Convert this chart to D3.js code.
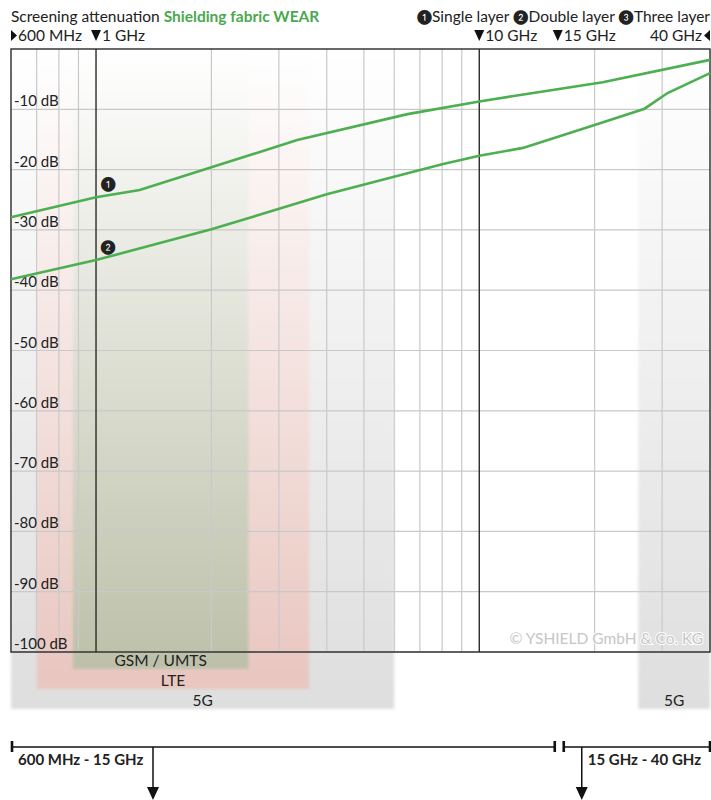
<!DOCTYPE html>
<html>
<head>
<meta charset="utf-8">
<script src="https://cdn.jsdelivr.net/npm/d3@7"></script>
<style>
body { margin: 0; background: #fff; }
text { font-family: Lato, "Open Sans", sans-serif; fill: #222; }
</style>
</head>
<body>
<div id="chart"></div>
<script>
// frequencies in GHz, attenuation in dB
var singleFreq = [0.6, 1, 1.3, 3.35, 6.5, 10, 12.3, 21, 40];
var singleDb   = [-27.9, -24.6, -23.4, -15.1, -10.8, -8.7, -7.8, -5.5, -1.8];
var doubleFreq = [0.6, 1, 2, 4, 8, 10, 13, 20, 27, 31, 40];
var doubleDb   = [-38.2, -35.0, -29.9, -24.1, -19.1, -17.7, -16.4, -12.6, -9.9, -7.3, -4.0];

var bandNames = ["5G", "LTE", "GSM / UMTS", "5G"];
var bandFrom  = [0.6, 0.7, 0.87, 26];
var bandTo    = [6, 3.6, 2.5, 40];
var bandLevel = [0, 1, 2, 0];
var bandColors = ["#dedede", "#e8c4bd", "#b8bca3"];

var dbTicks = [-10, -20, -30, -40, -50, -60, -70, -80, -90, -100];
var gridFreqs = [0.7, 0.8, 0.9, 2, 3, 4, 5, 6, 7, 8, 9, 20, 30];
var markFreqs = [1, 10];
var markerLabels = ["600 MHz", "1 GHz", "10 GHz", "15 GHz", "40 GHz"];
var markerFreqs  = [0.6, 1, 10, 15, 40];
var legendLabels = ["Single layer", "Double layer", "Three layer"];
var legendNums = ["❶", "❷", "❸"];
var rangeLabels = ["600 MHz - 15 GHz", "15 GHz - 40 GHz"];

var W = 711, H = 800;
var pLeft = 11, pRight = 710, pTop = 49, pBottom = 652;

var svg = d3.select("#chart").append("svg")
    .attr("width", W)
    .attr("height", H);

var x = d3.scaleLog().domain([0.6, 40]).range([pLeft, pRight]);
var y = d3.scaleLinear().domain([0, -100]).range([pTop, pBottom]);

var defs = svg.append("defs");
var grad = defs.append("linearGradient")
    .attr("id", "fade")
    .attr("gradientUnits", "userSpaceOnUse")
    .attr("x1", 0).attr("y1", pTop)
    .attr("x2", 0).attr("y2", 709);
grad.append("stop").attr("offset", 0).attr("stop-color", "#000");
grad.append("stop").attr("offset", 1).attr("stop-color", "#fff");
defs.append("mask").attr("id", "bandMask")
    .attr("maskUnits", "userSpaceOnUse")
    .attr("x", 0).attr("y", 0).attr("width", W).attr("height", H)
  .append("rect")
    .attr("x", 0).attr("y", pTop).attr("width", W).attr("height", H)
    .attr("fill", "url(#fade)");
defs.append("filter").attr("id", "soft")
    .attr("x", "-10%").attr("y", "-10%").attr("width", "120%").attr("height", "120%")
  .append("feGaussianBlur").attr("stdDeviation", 1.8);

// frequency bands, faded toward the top
var bandIdx = d3.range(bandNames.length);
var bandG = svg.append("g")
    .attr("mask", "url(#bandMask)")
  .append("g")
    .attr("filter", "url(#soft)");
bandG.selectAll("rect")
    .data(bandIdx)
    .enter().append("rect")
    .attr("x", function(i){ return x(bandFrom[i]); })
    .attr("y", pTop)
    .attr("width", function(i){ return x(bandTo[i]) - x(bandFrom[i]); })
    .attr("height", function(i){ return 709 - 20 * bandLevel[i] - pTop; })
    .attr("fill", function(i){ return bandColors[bandLevel[i]]; });

svg.selectAll(".band-label")
    .data(bandIdx)
    .enter().append("text")
    .attr("class", "band-label")
    .attr("x", function(i){ return (x(bandFrom[i]) + x(bandTo[i])) / 2; })
    .attr("y", function(i){ return 705.5 - 20 * bandLevel[i]; })
    .attr("text-anchor", "middle")
    .attr("font-size", "15.5px")
    .text(function(i){ return bandNames[i]; });

// grid
var grid = svg.append("g");
grid.selectAll(".vgrid")
    .data(gridFreqs)
    .enter().append("line")
    .attr("x1", function(d){ return x(d); })
    .attr("x2", function(d){ return x(d); })
    .attr("y1", pTop).attr("y2", pBottom)
    .attr("stroke", "#c9c9c9")
    .attr("stroke-width", 1.2);
grid.selectAll(".hgrid")
    .data(dbTicks)
    .enter().append("line")
    .attr("x1", pLeft).attr("x2", pRight)
    .attr("y1", function(d){ return y(d); })
    .attr("y2", function(d){ return y(d); })
    .attr("stroke", "#c9c9c9")
    .attr("stroke-width", 1.2);
grid.selectAll(".mark")
    .data(markFreqs)
    .enter().append("line")
    .attr("x1", function(d){ return x(d); })
    .attr("x2", function(d){ return x(d); })
    .attr("y1", pTop).attr("y2", pBottom)
    .attr("stroke", "#2a2a2a")
    .attr("stroke-width", 1.4);

svg.selectAll(".ylab")
    .data(dbTicks)
    .enter().append("text")
    .attr("x", pLeft + 3)
    .attr("y", function(d){ return y(d) - 3; })
    .attr("font-size", "15px")
    .text(function(d){ return d + " dB"; });

// copyright
svg.append("text")
    .attr("x", pRight - 7)
    .attr("y", pBottom - 8)
    .attr("text-anchor", "end")
    .attr("font-size", "15.5px")
    .style("fill", "#c6c6c6")
    .style("stroke", "#fff")
    .style("stroke-width", 2)
    .style("paint-order", "stroke")
    .text("© YSHIELD GmbH & Co. KG");

svg.append("rect")
    .attr("x", pLeft).attr("y", pTop)
    .attr("width", pRight - pLeft).attr("height", pBottom - pTop)
    .attr("fill", "none")
    .attr("stroke", "#2a2a2a")
    .attr("stroke-width", 1.4);

// curves
var line = d3.line()
    .x(function(d){ return x(d[0]); })
    .y(function(d){ return y(d[1]); });

var curves = [d3.zip(singleFreq, singleDb), d3.zip(doubleFreq, doubleDb)];
svg.selectAll(".curve")
    .data(curves)
    .enter().append("path")
    .attr("d", line)
    .attr("fill", "none")
    .attr("stroke", "#4caf50")
    .attr("stroke-width", 2.6);

svg.selectAll(".num")
    .data(curves)
    .enter().append("text")
    .attr("x", x(1) + 12)
    .attr("y", function(d){ return y(d[1][1]) - 8; })
    .attr("text-anchor", "middle")
    .attr("font-size", "14px")
    .text(function(d, i){ return legendNums[i]; });

// title & legend
var title = svg.append("text")
    .attr("x", 11).attr("y", 22)
    .attr("font-size", "15.5px");
title.append("tspan").text("Screening attenuation ");
title.append("tspan")
    .attr("font-weight", "bold")
    .style("fill", "#4aa84e")
    .text("Shielding fabric WEAR");

var legend = svg.append("text")
    .attr("x", pRight)
    .attr("y", 22)
    .attr("text-anchor", "end")
    .attr("font-size", "15.5px");
legendLabels.forEach(function(l, i){
    legend.append("tspan").attr("font-size", "14px").text((i ? " " : "") + legendNums[i]);
    legend.append("tspan").text(l);
});

// frequency markers above the plot
var mY = 41;
markerFreqs.forEach(function(f, i){
    var t = svg.append("text").attr("y", mY).attr("font-size", "15.5px")
        .text(markerLabels[i]);
    var tri = svg.append("path").attr("fill", "#111");
    if (i === 0) {
        var x0 = x(f);
        tri.attr("d", "M" + x0 + "," + (mY - 11) + "L" + (x0 + 6) + "," + (mY - 5.5) + "L" + x0 + "," + mY + "Z");
        t.attr("x", x0 + 7);
    } else if (i === markerFreqs.length - 1) {
        var x1 = x(f);
        tri.attr("d", "M" + x1 + "," + (mY - 11) + "L" + (x1 - 6) + "," + (mY - 5.5) + "L" + x1 + "," + mY + "Z");
        t.attr("x", x1 - 8).attr("text-anchor", "end");
    } else {
        var cx = x(f) + (f === 15 ? 11 : 0);
        tri.attr("d", "M" + (cx - 5) + "," + (mY - 11) + "L" + (cx + 5) + "," + (mY - 11) + "L" + cx + "," + mY + "Z");
        t.attr("x", cx + 6);
    }
});

// range bar at the bottom
var split = x(15) + 13;
var barY = 747;
var ranges = [[x(0.6) + 1, split - 5], [split + 4, pRight]];
var rb = svg.append("g");
rb.selectAll(".seg")
    .data(ranges)
    .enter().append("line")
    .attr("x1", function(d){ return d[0]; })
    .attr("x2", function(d){ return d[1]; })
    .attr("y1", barY).attr("y2", barY)
    .attr("stroke", "#111")
    .attr("stroke-width", 1.5);
var ends = [ranges[0][0], ranges[0][1], ranges[1][0], ranges[1][1]];
rb.selectAll(".end")
    .data(ends)
    .enter().append("line")
    .attr("x1", function(d){ return d; })
    .attr("x2", function(d){ return d; })
    .attr("y1", barY - 6).attr("y2", barY + 5)
    .attr("stroke", "#111")
    .attr("stroke-width", 2.6);

rb.append("text")
    .attr("x", ranges[0][0] + 6)
    .attr("y", barY + 18)
    .attr("font-size", "15px")
    .attr("font-weight", "bold")
    .text(rangeLabels[0]);
rb.append("text")
    .attr("x", ranges[1][0] + 24)
    .attr("y", barY + 18)
    .attr("font-size", "15px")
    .attr("font-weight", "bold")
    .text(rangeLabels[1]);

var arrows = [153, ranges[1][0] + 18];
arrows.forEach(function(ax){
    rb.append("line")
        .attr("x1", ax).attr("x2", ax)
        .attr("y1", barY).attr("y2", 790)
        .attr("stroke", "#111")
        .attr("stroke-width", 1.5);
    rb.append("path")
        .attr("d", "M" + (ax - 6) + ",787L" + (ax + 6) + ",787L" + ax + ",800Z")
        .attr("fill", "#111");
});
</script>
</body>
</html>
